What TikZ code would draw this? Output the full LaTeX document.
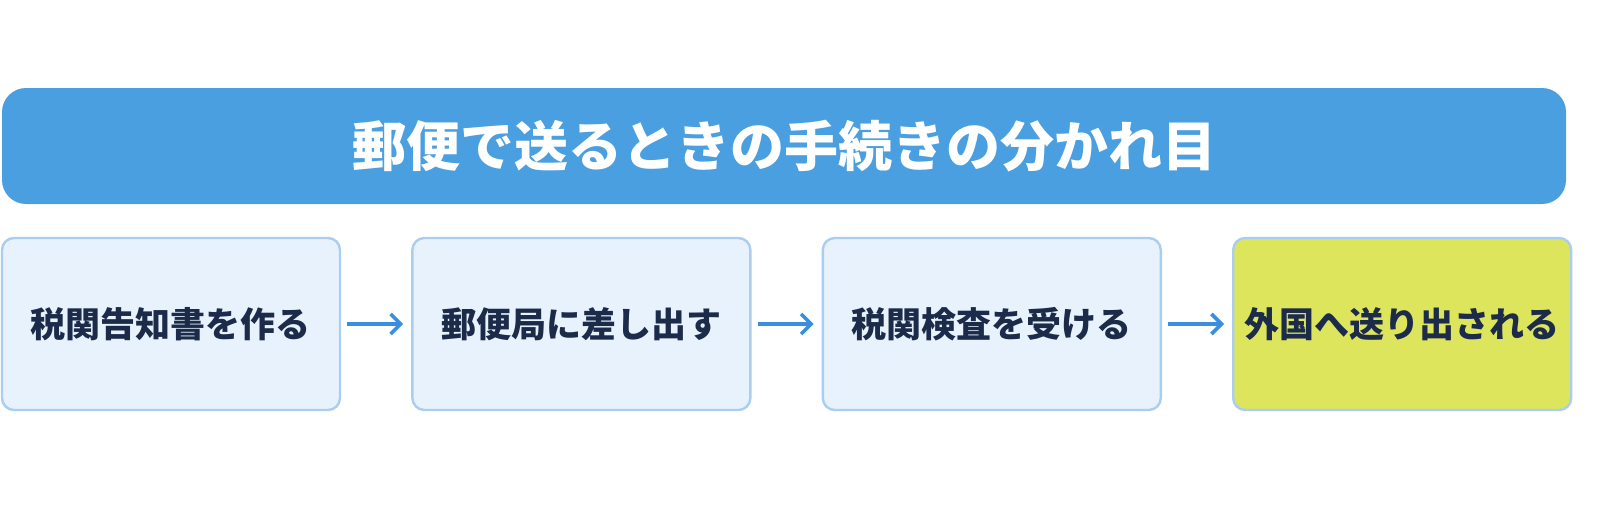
\documentclass[tikz,border=0pt]{standalone}
\usepackage{fontspec}
\setmainfont{Noto Sans CJK JP}
\usetikzlibrary{positioning,arrows.meta}
\definecolor{bannerblue}{HTML}{4A9FE0}
\definecolor{boxfill}{HTML}{E8F2FC}
\definecolor{boxline}{HTML}{A9CEF1}
\definecolor{lastfill}{HTML}{DCE55C}
\definecolor{textnavy}{HTML}{1C2B4A}
\definecolor{arrowblue}{HTML}{3A8EE0}
\begin{document}
\begin{tikzpicture}[x=0.5pt,y=0.5pt,yscale=-1,xscale=1,
  stagebox/.style={draw=boxline,line width=1.2pt,fill=boxfill,rounded corners=6pt,
    minimum width=169pt,minimum height=86pt,inner sep=0pt,
    text=textnavy,font=\bfseries\fontsize{17.5pt}{20pt}\selectfont},
  flow/.style={draw=arrowblue,line width=1.8pt,-{Straight Barb[length=5pt,width=10pt]}}]
  %set diagram size
  \useasboundingbox (0,0) rectangle (1600,509);

  % Banner
  \node (banner) [fill=bannerblue,rounded corners=12pt,minimum width=782pt,minimum height=58pt,
    inner sep=0pt,text=white,font=\bfseries\fontsize{27pt}{30pt}\selectfont]
    at (784,146) {郵便で送るときの手続きの分かれ目};

  % Steps
  \node (make) [stagebox] at (171,324) {税関告知書を作る};
  \node (post) [stagebox,right=35pt of make] {郵便局に差し出す};
  \node (check) [stagebox,right=35pt of post] {税関検査を受ける};
  \node (ship) [stagebox,fill=lastfill,right=35pt of check] {外国へ送り出される};

  % Arrows
  \draw[flow] ([xshift=3pt]make.east) -- ([xshift=-4pt]post.west);
  \draw[flow] ([xshift=3pt]post.east) -- ([xshift=-4pt]check.west);
  \draw[flow] ([xshift=3pt]check.east) -- ([xshift=-4pt]ship.west);
\end{tikzpicture}
\end{document}
